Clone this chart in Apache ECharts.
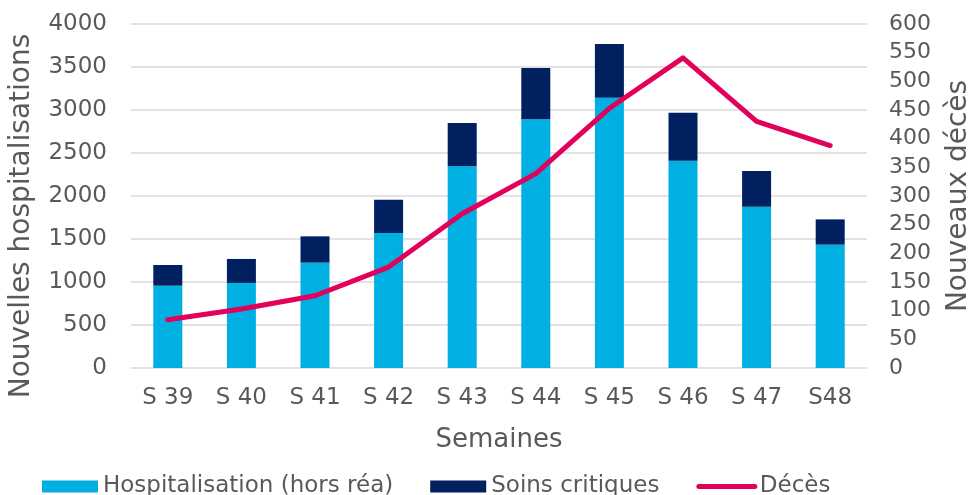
<!DOCTYPE html>
<html><head><meta charset="utf-8">
<script src="https://cdn.jsdelivr.net/npm/echarts@6/dist/echarts.min.js"></script>
<style>html,body{margin:0;padding:0;background:#fff}#c{width:973px;height:495px}</style>
</head><body><div id="c"></div>
<script>
const categories = ['S 39','S 40','S 41','S 42','S 43','S 44','S 45','S 46','S 47','S48'];
const hospitalisation = [957, 989, 1225, 1570, 2345, 2891, 3143, 2411, 1876, 1434];
const soinsCritiques = [241, 279, 306, 387, 504, 598, 625, 558, 415, 294];
const deces = [84, 103, 126, 176, 269, 339, 453, 541, 430, 388];

const font = 'DejaVu Sans';
const grey = '#595959';
const chart = echarts.init(document.getElementById('c'));
chart.setOption({
  animation: false,
  textStyle: { fontFamily: font, color: grey },
  grid: { left: 131, right: 106, top: 24, bottom: 127, containLabel: false, outerBoundsMode: 'none' },
  legend: {
    left: 37, top: 470, itemWidth: 56, itemHeight: 12, itemGap: 37,
    textStyle: { fontFamily: font, fontSize: 23, color: grey },
    data: [
      { name: 'Hospitalisation (hors réa)', icon: 'rect' },
      { name: 'Soins critiques', icon: 'rect' },
      { name: 'Décès', itemStyle: { opacity: 0 }, lineStyle: { width: 5, cap: 'round', color: '#E2005A' } }
    ]
  },
  xAxis: {
    type: 'category', data: categories,
    name: 'Semaines', nameLocation: 'middle', nameGap: 59,
    nameTextStyle: { fontFamily: font, fontSize: 26, color: grey },
    axisLine: { show: false }, axisTick: { show: false },
    axisLabel: { fontFamily: font, fontSize: 23, color: grey, margin: 19 }
  },
  yAxis: [{
    type: 'value', min: 0, max: 4000, interval: 500,
    name: 'Nouvelles hospitalisations', nameLocation: 'middle', nameGap: 95, nameRotate: 90,
    nameTextStyle: { fontFamily: font, fontSize: 28, color: grey, padding: [0, 40, 0, 0] },
    axisLine: { show: false }, axisTick: { show: false },
    axisLabel: { fontFamily: font, fontSize: 23, color: grey, margin: 24, formatter: v => String(v) },
    splitLine: { show: true, lineStyle: { color: '#D9D9D9', width: 1.5 } }
  }, {
    type: 'value', min: 0, max: 600, interval: 50,
    name: 'Nouveaux décès', nameLocation: 'middle', nameGap: 78, nameRotate: 90,
    nameTextStyle: { fontFamily: font, fontSize: 28, color: grey },
    axisLine: { show: false }, axisTick: { show: false },
    axisLabel: { fontFamily: font, fontSize: 22, color: grey, margin: 22, formatter: v => String(v) },
    splitLine: { show: false }
  }],
  series: [{
    name: 'Hospitalisation (hors réa)', type: 'bar', stack: 'h', barWidth: 29,
    data: hospitalisation, itemStyle: { color: '#00B0E3' }
  }, {
    name: 'Soins critiques', type: 'bar', stack: 'h', barWidth: 29,
    data: soinsCritiques, itemStyle: { color: '#00205F' }
  }, {
    name: 'Décès', type: 'line', yAxisIndex: 1, data: deces,
    symbol: 'none', lineStyle: { color: '#E2005A', width: 5, cap: 'round', join: 'round' },
    itemStyle: { color: '#E2005A' }
  }]
});
</script></body></html>
